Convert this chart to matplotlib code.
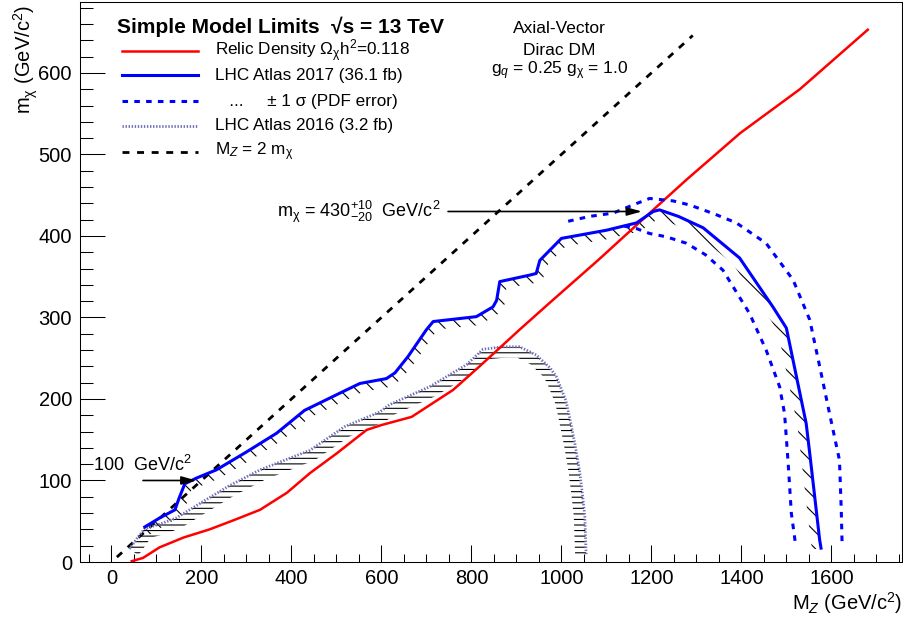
import numpy as np
import matplotlib
matplotlib.use('Agg')
import matplotlib.pyplot as plt
from matplotlib.ticker import MultipleLocator

plt.rcParams['font.family'] = ['Liberation Sans', 'DejaVu Sans']
plt.rcParams['mathtext.fontset'] = 'custom'
plt.rcParams['mathtext.rm'] = 'Liberation Sans'
plt.rcParams['mathtext.it'] = 'Liberation Sans:italic'
plt.rcParams['mathtext.bf'] = 'Liberation Sans:bold'
plt.rcParams['lines.scale_dashes'] = False
plt.rcParams['hatch.linewidth'] = 0.8

# relic density Omega h^2 = 0.118
relic_mz   = [45, 70, 107, 160, 218, 275, 330, 390, 441, 500, 567, 600, 667, 759, 818,
              907, 974, 1081, 1214, 1278, 1397, 1530, 1681]
relic_mchi = [1, 5, 18, 30, 40, 52, 64, 85, 109, 133, 162, 168, 178, 211, 240,
              285, 318, 370, 437, 469, 526, 580, 653]

# ATLAS 2017, 36.1 fb-1 observed contour
atlas17_mz   = [74, 107, 141, 150, 163, 189, 233, 300, 367, 429, 507, 552, 611, 630, 659,
                700, 715, 811, 848, 856, 863, 930, 944, 952, 1000, 1100, 1167, 1204, 1218,
                1260, 1315, 1396, 1470, 1500, 1544, 1552, 1574, 1577]
atlas17_mchi = [43, 54, 64, 78, 96, 103, 113, 135, 158, 186, 207, 219, 225, 232, 252,
                285, 295, 301, 313, 321, 344, 352, 354, 370, 397, 407, 416, 430, 432,
                424, 410, 373, 313, 287, 170, 133, 27, 17]

# +/- 1 sigma (PDF error) around the 2017 contour
pdf_up_mz   = [1015, 1063, 1115, 1159, 1196, 1248, 1285, 1340, 1389, 1455, 1515, 1552,
               1574, 1596, 1618, 1622, 1624]
pdf_up_mchi = [418, 424, 428, 438, 446, 443, 438, 427, 416, 391, 346, 297,
               240, 182, 125, 64, 19]
pdf_dn_mz   = [1140, 1167, 1196, 1233, 1278, 1320, 1359, 1418, 1455, 1485, 1496, 1504, 1511, 1521]
pdf_dn_mchi = [412, 409, 403, 399, 391, 377, 358, 305, 260, 215, 182, 121, 60, 19]

# ATLAS 2016, 3.2 fb-1 contour
atlas16_mz   = [40, 58, 74, 110, 144, 200, 260, 330, 441, 518, 596, 618, 707, 789, 826,
                870, 907, 944, 975, 989, 1010, 1018, 1030, 1040, 1047, 1052, 1055]
atlas16_mchi = [16, 30, 41, 47, 54, 73, 93, 113, 137, 166, 184, 193, 215, 242, 261,
                264, 264, 254, 238, 227, 198, 178, 145, 113, 82, 56, 8]

# M_Z = 2 m_chi
diag_mz   = [12, 1292]
diag_mchi = [6, 646]

# m_chi reach arrows: value, arrow start / end in M_Z
reach_mchi  = [430, 100]
reach_start = [748, 70]
reach_end   = [1179, 189]

relic_style = dict(color='#ff0000', lw=1.8)
a17_style = dict(color='#0000ff', lw=2.2)
pdf_style = dict(color='#0000ff', lw=2.2, dashes=(4, 4.5))
a16_style = dict(color='#6f6fb8', lw=2.0, dashes=(1.0, 1.2))
diag_style = dict(color='black', lw=2.0, dashes=(5, 5.5))

fig = plt.figure(figsize=(9.04, 6.22), dpi=100)
ax = fig.add_axes([80/904, 60/622, 822/904, 560/622])
ax.set_xlim(-70, 1757)
ax.set_ylim(0, 687)


def hatch_band(xs, ys, width_px, hatch):
    # hatched strip on the right-hand side of the contour (excluded side)
    pts = ax.transData.transform(np.column_stack([xs, ys]).astype(float))
    seg = np.diff(pts, axis=0)
    seg /= np.hypot(seg[:, 0], seg[:, 1])[:, None]
    nrm = np.column_stack([seg[:, 1], -seg[:, 0]])
    vn = np.vstack([nrm[:1], nrm[:-1] + nrm[1:], nrm[-1:]])
    vn /= np.hypot(vn[:, 0], vn[:, 1])[:, None]
    inner = pts + width_px * vn
    poly = ax.transData.inverted().transform(np.vstack([pts, inner[::-1]]))
    ax.fill(poly[:, 0], poly[:, 1], facecolor='none', edgecolor='black',
            linewidth=0, hatch=hatch, zorder=1)


hatch_band(atlas17_mz, atlas17_mchi, 9, '\\\\')
hatch_band(atlas16_mz, atlas16_mchi, 11, '---')

ax.plot(diag_mz, diag_mchi, zorder=2, **diag_style)
ax.plot(atlas16_mz, atlas16_mchi, zorder=2, **a16_style)
ax.plot(relic_mz, relic_mchi, zorder=3, **relic_style)
ax.plot(pdf_up_mz, pdf_up_mchi, zorder=3, **pdf_style)
ax.plot(pdf_dn_mz, pdf_dn_mchi, zorder=3, **pdf_style)
ax.plot(atlas17_mz, atlas17_mchi, zorder=4, **a17_style)

# reach arrows
for m, x0, x1 in zip(reach_mchi, reach_start, reach_end):
    ax.annotate('', xy=(x1, m), xytext=(x0, m), zorder=5,
                arrowprops=dict(arrowstyle='-|>,head_length=0.9,head_width=0.25',
                                color='black', lw=1.2, mutation_scale=10,
                                shrinkA=0, shrinkB=0))
ax.text(367, reach_mchi[0], r'm$_\mathrm{\chi}$ = %d$^{+10}_{-20}$  GeV/c$^2$' % reach_mchi[0],
        ha='left', va='center', fontsize=13)
ax.text(-41, reach_mchi[1] + 19, r'%d  GeV/c$^2$' % reach_mchi[1],
        ha='left', va='center', fontsize=13)

# model description
ax.text(996, 655, 'Axial-Vector', ha='center', va='center', fontsize=12.5)
ax.text(996, 628, 'Dirac DM', ha='center', va='center', fontsize=12.5)
ax.text(996, 603, r'g$_q$ = 0.25 g$_\mathrm{\chi}$ = 1.0', ha='center', va='center', fontsize=12.5)

# legend
ax.text(0.045, 0.955, 'Simple Model Limits  \u221as = 13 TeV',
        transform=ax.transAxes, ha='left', va='center', fontsize=15, fontweight='bold')
entries = [
    (relic_style, r'Relic Density $\Omega_\mathrm{\chi}$h$^2$=0.118'),
    (a17_style, 'LHC Atlas 2017 (36.1 fb)'),
    (pdf_style, '   ...     \u00b1 1 \u03c3 (PDF error)'),
    (a16_style, 'LHC Atlas 2016 (3.2 fb)'),
    (diag_style, r'M$_Z$ = 2 m$_\mathrm{\chi}$'),
]
rows_y = [0.9125, 0.8696, 0.8232, 0.7786, 0.7321]
for (style, label), yy in zip(entries, rows_y):
    ax.plot([0.0511, 0.1436], [yy, yy], transform=ax.transAxes, clip_on=False, **style)
    ax.text(0.1642, yy, label, transform=ax.transAxes, ha='left', va='center', fontsize=12.3)

# axes, ROOT-like ticks
ax.xaxis.set_major_locator(MultipleLocator(200))
ax.xaxis.set_minor_locator(MultipleLocator(50))
ax.yaxis.set_major_locator(MultipleLocator(100))
ax.yaxis.set_minor_locator(MultipleLocator(20))
ax.tick_params(axis='both', which='both', direction='in', top=False, right=False, width=0.75)
ax.tick_params(axis='x', which='major', length=12.2, pad=5, labelsize=14.5)
ax.tick_params(axis='x', which='minor', length=5.8)
ax.tick_params(axis='y', which='major', length=18, pad=5.8, labelsize=14.5)
ax.tick_params(axis='y', which='minor', length=9.4)
for sp in ax.spines.values():
    sp.set_linewidth(0.75)

ax.set_xlabel(r'M$_Z$ (GeV/c$^2$)', fontsize=14.5, loc='right')
ax.xaxis.set_label_coords(1.0, -0.05)
ax.set_ylabel(r'm$_\mathrm{\chi}$ (GeV/c$^2$)', fontsize=14.5, loc='top')
ax.yaxis.set_label_coords(-0.049, 0.995)

fig.savefig('out.png', dpi=100)
